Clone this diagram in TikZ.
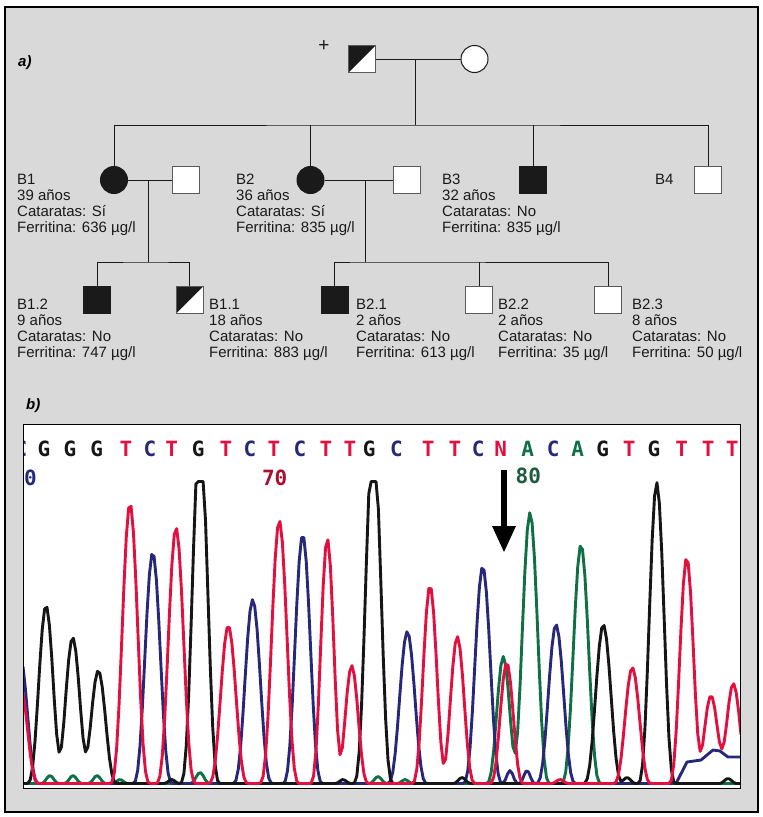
\documentclass[tikz,border=0pt]{standalone}
\usepackage{fontspec}
\setmainfont{Liberation Sans}
\newfontfamily\seqfont{DejaVu Sans Mono}
\usetikzlibrary{arrows.meta}
\definecolor{pedink}{HTML}{1A1A1A}
\definecolor{pedframe}{HTML}{5A5A5A}
\definecolor{panelgray}{HTML}{D9D9D9}
\definecolor{seqblack}{HTML}{161616}
\definecolor{seqred}{HTML}{E3103F}
\definecolor{seqblue}{HTML}{27287A}
\definecolor{seqgreen}{HTML}{107045}
\definecolor{numred}{HTML}{A8102E}
\definecolor{numgreen}{HTML}{1D5C40}
\tikzset{
  male/.style={draw=pedframe,fill=white,line width=1pt,minimum size=27pt,inner sep=0pt},
  female/.style={circle,draw=pedink,fill=white,line width=1pt,minimum size=27pt,inner sep=0pt},
  affected/.style={fill=pedink,draw=pedink},
  carrier/.style={path picture={\fill[pedink] (path picture bounding box.north west)
    -- (path picture bounding box.north east) -- (path picture bounding box.south west) -- cycle;}},
  info/.style={anchor=north west,inner sep=0pt,align=left,text=pedink,
    font=\fontsize{15}{16}\selectfont},
  link/.style={pedink,line width=1pt},
  trace/.style={line width=2.9pt,line join=round},
  seqletter/.style={anchor=base,inner sep=0pt,font=\seqfont\bfseries\fontsize{21}{21}\selectfont}
}

\begin{document}
\begin{tikzpicture}[x=1pt,y=-1pt,
  declare function={
    bump(\t,\c,\h,\w)=\h*max(0,1-((\t-\c)/\w)^2)^4;
    greensum(\t)=bump(\t,50,8,10)+bump(\t,73,8,10)+bump(\t,97,8,10)+bump(\t,120,4,9)
      +bump(\t,200,11,11)+bump(\t,378,7,10)+bump(\t,405,4,9)+bump(\t,503.3,127,18)
      +bump(\t,530,271,21)+bump(\t,581,239,21);
    bluesum(\t)=bump(\t,20,128,20)+bump(\t,152.7,231,21)+bump(\t,252.7,184,21)
      +bump(\t,302.7,249,21)+bump(\t,407.3,152,21)+bump(\t,482.7,217,21)
      +bump(\t,510,13,9)+bump(\t,527,13,9)+bump(\t,556,159,21);
    blacksum(\t)=min(302,bump(\t,46,178,20)+bump(\t,72.7,146,20)+bump(\t,98.3,113,20)
      +bump(\t,171.7,4,9)+bump(\t,200,350,21)+bump(\t,343,4,9)+bump(\t,373.3,350,21)
      +bump(\t,462,6,10)+bump(\t,603.3,159,21)+bump(\t,627,6,10)+bump(\t,656.7,301,20)
      +bump(\t,728,5,10));
    redsum(\t)=bump(\t,20,100,20)+bump(\t,130,280,21)+bump(\t,176,256,21)
      +bump(\t,228.3,158,21)+bump(\t,279.3,263,21)+bump(\t,327.3,245,18)
      +bump(\t,351.7,118,18)+bump(\t,430,198,19)+bump(\t,457.3,147,19)
      +bump(\t,506.7,121,18)+bump(\t,560,4,10)+bump(\t,632.3,116,20)
      +bump(\t,686.7,226,19)+bump(\t,711,88,19)+bump(\t,733.3,100,19);
  }]
  \fill[white] (0,0) rectangle (763,817);
  \useasboundingbox (0,0) rectangle (763,817);
  \draw[fill=panelgray,line width=1.2pt] (5,7) rectangle (758,812);

  % a) pedigree
  \node[anchor=base west,inner sep=0pt,font=\fontsize{15}{16}\selectfont\bfseries\itshape]
    (lbla) at (18,66) {a)};
  \node[inner sep=0pt,text=pedink,font=\fontsize{19}{19}\selectfont] (plus) at (324,46) {+};
  \node[male,carrier] (fa) at (362,59) {};
  \node[female] (mo) at (474.5,59) {};
  \coordinate (u1) at (415,59);
  \coordinate (s1) at (415,125);

  \node[female,affected] (b1) at (114,180) {};
  \node[male] (b1sp) at (185.5,180) {};
  \node[female,affected] (b2) at (310.5,180) {};
  \node[male] (b2sp) at (406.5,180) {};
  \node[male,affected] (b3) at (533,180) {};
  \node[male] (b4) at (708,180) {};
  \coordinate (u2) at (148,180);
  \coordinate (s2) at (148,262);
  \coordinate (u3) at (365,180);
  \coordinate (s3) at (365,262);

  \node[male,affected] (b12) at (97,300) {};
  \node[male,carrier] (b11) at (189.5,300) {};
  \node[male,affected] (b21) at (334.7,300) {};
  \node[male] (b22) at (479,300) {};
  \node[male] (b23) at (608,300) {};

  \draw[link] (fa) -- (mo);
  \draw[link] (u1) -- (s1);
  \draw[link] (b1) |- (s1) -| (b4);
  \draw[link] (b2) -- (b2 |- s1);
  \draw[link] (b3) -- (b3 |- s1);
  \draw[link] (b1) -- (b1sp);
  \draw[link] (u2) -- (s2);
  \draw[link] (b12) |- (s2) -| (b11);
  \draw[link] (b2) -- (b2sp);
  \draw[link] (u3) -- (s3);
  \draw[link] (b21) |- (s3) -| (b23);
  \draw[link] (b22) -- (b22 |- s3);

  \node[info] (tb1) at (17,174.3) {B1\\39 años\\Cataratas: Sí\\Ferritina: 636 µg/l};
  \node[info] (tb2) at (236,174.3) {B2\\36 años\\Cataratas: Sí\\Ferritina: 835 µg/l};
  \node[info] (tb3) at (442,174.3) {B3\\32 años\\Cataratas: No\\Ferritina: 835 µg/l};
  \node[info] (tb4) at (655,174.3) {B4};
  \node[info] (tb12) at (17,299.3) {B1.2\\9 años\\Cataratas: No\\Ferritina: 747 µg/l};
  \node[info] (tb11) at (209,299.3) {B1.1\\18 años\\Cataratas: No\\Ferritina: 883 µg/l};
  \node[info] (tb21) at (356,299.3) {B2.1\\2 años\\Cataratas: No\\Ferritina: 613 µg/l};
  \node[info] (tb22) at (498,299.3) {B2.2\\2 años\\Cataratas: No\\Ferritina: 35 µg/l};
  \node[info] (tb23) at (632,299.3) {B2.3\\8 años\\Cataratas: No\\Ferritina: 50 µg/l};

  % b) sequence trace
  \node[anchor=base west,inner sep=0pt,font=\fontsize{15}{16}\selectfont\bfseries\itshape]
    (lblb) at (26,409) {b)};
  \fill[white] (23.3,424.3) rectangle (740.7,788.3);
  \begin{scope}
    \clip (23.3,424.3) rectangle (740.7,788.3);
    \foreach \px/\ch/\col [count=\i] in {21/C/seqblue,44/G/seqblack,70/G/seqblack,
        96.7/G/seqblack,126/T/seqred,150/C/seqblue,171.7/T/seqred,198.3/G/seqblack,
        226/T/seqred,250/C/seqblue,274/T/seqred,300/C/seqblue,326/T/seqred,
        350/T/seqred,369.3/G/seqblack,396.5/C/seqblue,428.3/T/seqred,455/T/seqred,
        478.3/C/seqblue,500.7/N/seqred,527.7/A/seqgreen,553.3/C/seqblue,
        577.7/A/seqgreen,602.7/G/seqblack,629.3/T/seqred,654/G/seqblack,
        681.7/T/seqred,708.3/T/seqred,732.3/T/seqred}
      \node[seqletter,text=\col] (nt\i) at (\px,456) {\ch};
    \node[seqletter,text=seqblue] (pos60) at (30.5,485) {0};
    \node[seqletter,text=numred] (pos70) at (274.7,485) {70};
    \node[seqletter,text=numgreen] (pos80) at (528.3,483.5) {80};

    \draw[trace,seqgreen] plot[domain=23:741,samples=300] (\x,{783.5-greensum(\x)});
    \draw[trace,seqblue] plot[domain=23:676,samples=280] (\x,{783.5-bluesum(\x)})
      -- (687,762) -- (701,760) -- (713,750) -- (720,751) -- (728,757) -- (741,757);
    \draw[trace,seqblack] plot[domain=23:741,samples=300] (\x,{783.5-blacksum(\x)});
    \draw[trace,seqred] plot[domain=23:741,samples=300] (\x,{783.5-redsum(\x)});
  \end{scope}
  \draw[line width=1.2pt] (23.3,424.3) rectangle (740.7,788.3);

  \coordinate (arrtail) at (504,470);
  \coordinate (arrtip) at (504,552);
  \draw[line width=6.5pt,-{Triangle[width=24pt,length=26pt,line width=0pt]}]
    (arrtail) -- (arrtip);
\end{tikzpicture}
\end{document}
